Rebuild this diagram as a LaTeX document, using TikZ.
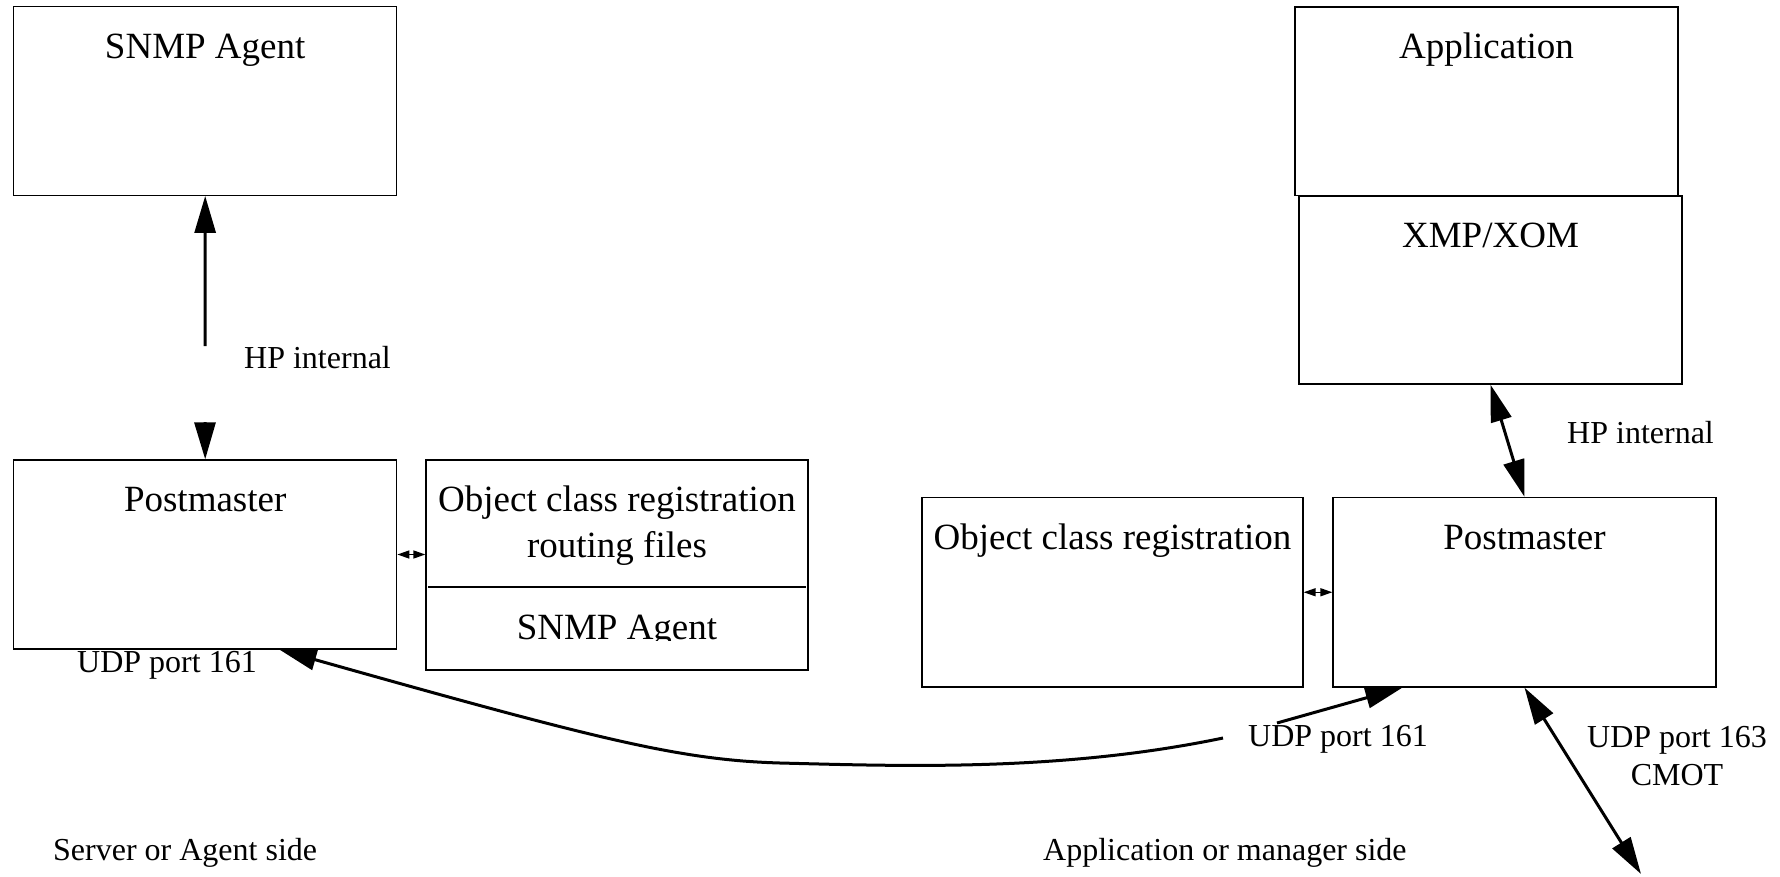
\documentclass[tikz,border=0pt]{standalone}
\usepackage{fontspec}
\setmainfont{Liberation Serif}
\usetikzlibrary{arrows.meta,calc}

\tikzset{
  box/.style={draw=black, line width=1.3pt, minimum width=#1, inner sep=0pt},
  boxtitle/.style={font=\fontsize{37}{44}\selectfont, anchor=base, inner sep=0pt},
  lbl/.style={font=\fontsize{32}{38}\selectfont, inner sep=0pt},
  bigtip/.tip={Triangle[length=37pt,width=21pt]},
  smalltip/.tip={Triangle[length=12pt,width=8pt]},
  onearrow/.style={line width=3pt, -bigtip},
  twoarrow/.style={line width=3pt, bigtip-bigtip},
  tinyarrow/.style={line width=1.5pt, smalltip-smalltip},
}

\begin{document}
\begin{tikzpicture}[x=1pt,y=-1pt]
\useasboundingbox (0,0) rectangle (1780,876);

% ---------- server / agent side ----------
\node[box=383pt, minimum height=188.6pt] (snmp) at (205.2,101) {};
\node[boxtitle] (snmpt) at ([yshift=-52.5pt]snmp.north) {SNMP Agent};

\node[box=383pt, minimum height=189pt] (pm) at (205.2,554.5) {};
\node[boxtitle] (pmt) at ([yshift=-52.5pt]pm.north) {Postmaster};

\node[box=382pt, minimum height=210pt] (ocr) at (617,565) {};
\node[boxtitle] (ocrt1) at ([yshift=-52.5pt]ocr.north) {Object class registration};
\node[boxtitle] (ocrt2) at ([yshift=-98pt]ocr.north) {routing files};
\draw[line width=1.3pt] ([xshift=3pt]ocr.west |- 0,587) coordinate (divl)
  -- ([xshift=-3pt]ocr.east |- 0,587) coordinate (divr);
\begin{scope}
  \clip (ocr.west |- 0,587) rectangle (ocr.east |- 0,640);
  \node[boxtitle] (ocrt3) at (617,639) {SNMP Agent};
\end{scope}

\coordinate (hpa) at (205,346);
\coordinate (hpb) at (205,422);
\draw[onearrow] (hpa) -- (snmp.south);
\draw[onearrow] (hpb) -- (pm.north);
\node[lbl, anchor=base west] (hpl) at (244,368) {HP internal};

\draw[tinyarrow] (pm.east) -- (pm.east -| ocr.west);

\node[lbl, anchor=base west] (udpl) at (77,672) {UDP port 161};

\node[lbl, anchor=base west] (sside) at (53,860) {Server or Agent side};

% ---------- application / manager side ----------
\node[box=383pt, minimum height=188.3pt] (app) at (1486.5,101) {};
\node[boxtitle] (appt) at ([yshift=-52.5pt]app.north) {Application};

\node[box=383pt, minimum height=188pt] (xmp) at (1490.5,290) {};
\node[boxtitle] (xmpt) at ([yshift=-52pt]xmp.north) {XMP/XOM};

\node[box=381pt, minimum height=189.5pt] (ocrr) at (1112.5,592.25) {};
\node[boxtitle] (ocrrt) at ([yshift=-52.5pt]ocrr.north) {Object class registration};

\node[box=383pt, minimum height=189.5pt] (pm2) at (1524.5,592.25) {};
\node[boxtitle] (pm2t) at ([yshift=-52.5pt]pm2.north) {Postmaster};

\draw[twoarrow] (xmp.south) -- (pm2.north);
\node[lbl, anchor=base west] (hpr) at (1567,443) {HP internal};

\draw[tinyarrow] (ocrr.east) -- (pm2.west);

\coordinate (net) at (1641,874);
\draw[twoarrow] (pm2.south) -- (net);
\node[lbl, anchor=base] (udp163) at (1677,747) {UDP port 163};
\node[lbl, anchor=base] (cmot) at (1677,785) {CMOT};

% SNMP request path between the two postmasters, broken by its label
\node[lbl, anchor=base west] (udpr) at (1248,746) {UDP port 161};
\coordinate (cstart) at (1223,738);
\coordinate (sstart) at (1277,723);
\draw[onearrow] (cstart) .. controls (1060,772) and (900,766) .. (780,763)
  .. controls (680,760) and (600,740) .. (pm.-52.3);
\draw[onearrow] (sstart) -- (pm2.218.6);

\node[lbl, anchor=base west] (aside) at (1043,860) {Application or manager side};
\end{tikzpicture}
\end{document}
